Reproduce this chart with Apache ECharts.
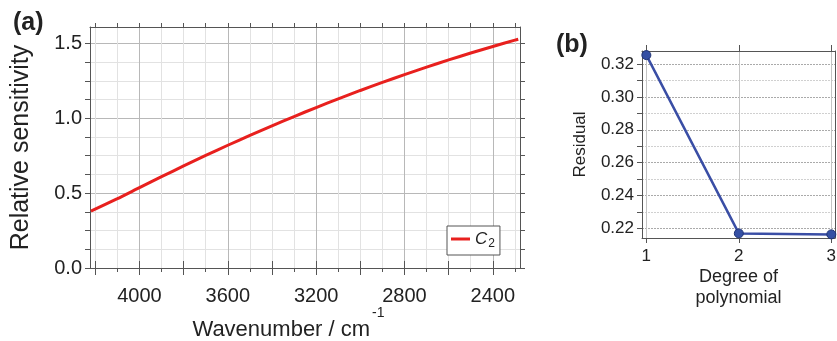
<!DOCTYPE html>
<html>
<head>
<meta charset="utf-8">
<script src="https://cdn.jsdelivr.net/npm/echarts@6/dist/echarts.min.js"></script>
<style>
  html, body { margin: 0; padding: 0; background: #fff; }
  #chart { width: 837px; height: 341px; }
</style>
</head>
<body>
<div id="chart"></div>
<script>
// (a) relative sensitivity against wavenumber
const wavenumbers = [4220, 4100, 4000, 3900, 3800, 3700, 3600, 3500, 3400, 3300, 3200,
  3100, 3000, 2900, 2800, 2700, 2600, 2500, 2400, 2300, 2285];
const sensitivity = [0.38, 0.463, 0.537, 0.61, 0.682, 0.752, 0.82, 0.886, 0.95, 1.012, 1.072,
  1.13, 1.186, 1.24, 1.292, 1.342, 1.39, 1.436, 1.48, 1.522, 1.528];
const wnLabels = [2400, 2800, 3200, 3600, 4000];
const wnTicks = [2300, 2400, 2500, 2600, 2700, 2800, 2900, 3000, 3100, 3200, 3300,
  3400, 3500, 3600, 3700, 3800, 3900, 4000, 4100, 4200];
const wnMajorTicks = [2400, 2600, 2800, 3000, 3200, 3400, 3600, 3800, 4000, 4200];
const sensLabels = [0, 0.5, 1.0, 1.5];
const sensTicks = [0, 0.125, 0.25, 0.375, 0.5, 0.625, 0.75, 0.875, 1.0, 1.125, 1.25, 1.375, 1.5];

// (b) residual against degree of polynomial
const degrees = [1, 2, 3];
const residuals = [0.3255, 0.2169, 0.2163];
const degreeLabels = [1, 2, 3];
const residLabels = [0.22, 0.24, 0.26, 0.28, 0.30, 0.32];
const residTicks = [0.22, 0.23, 0.24, 0.25, 0.26, 0.27, 0.28, 0.29, 0.30, 0.31, 0.32];

const FONT = 'Liberation Sans';
const AX = '#555';

const chart = echarts.init(document.getElementById('chart'));

const boxAxis = (extra) => Object.assign({
  type: 'value',
  nameMoveOverlap: false,
  axisLine: { show: true, onZero: false, lineStyle: { color: AX, width: 1 } },
  axisTick: { show: true, inside: false, length: 5, lineStyle: { color: AX } },
  axisLabel: { show: false },
  splitLine: { show: false }
}, extra);

// longer ticks every 200 cm-1, drawn by an extra axis without a line
const majorWnAxis = (pos) => boxAxis({
  gridIndex: 0, position: pos, inverse: true, min: 2277, max: 4224,
  axisLine: { show: false },
  axisTick: { show: true, inside: false, length: 7, customValues: wnMajorTicks, lineStyle: { color: AX } }
});

chart.setOption({
  animation: false,
  title: [
    { text: '(a)', left: 8, top: 6, textStyle: { fontFamily: FONT, fontSize: 25, fontWeight: 'bold', color: '#222' } },
    { text: '(b)', left: 551, top: 28, textStyle: { fontFamily: FONT, fontSize: 25, fontWeight: 'bold', color: '#222' } }
  ],
  grid: [
    { left: 90, top: 27, right: 317, bottom: 73, containLabel: false, outerBoundsMode: 'none' },
    { left: 642, top: 51, right: 2, bottom: 103, containLabel: false, outerBoundsMode: 'none' }
  ],
  legend: {
    left: 447, top: 226,
    data: ['C2'],
    icon: 'rect', itemWidth: 19, itemHeight: 3,
    padding: [5, 5, 5, 4],
    borderColor: AX, borderWidth: 1, backgroundColor: '#fff',
    formatter: () => '{i|C}{s|2}',
    textStyle: {
      rich: {
        i: { fontFamily: FONT, fontSize: 17, fontStyle: 'italic', color: '#222', lineHeight: 18, verticalAlign: 'bottom' },
        s: { fontFamily: FONT, fontSize: 12, color: '#222', lineHeight: 12, verticalAlign: 'bottom', padding: [0, 0, -2, 1] }
      }
    }
  },
  xAxis: [
    boxAxis({
      gridIndex: 0, position: 'bottom', inverse: true, min: 2277, max: 4224,
      name: '{t|Wavenumber / cm}{sup|-1}', nameLocation: 'middle', nameGap: 38,
      nameTextStyle: {
        padding: [0, 33, 0, 0],
        rich: {
          t: { fontFamily: FONT, fontSize: 22, color: '#222', lineHeight: 48 },
          sup: { fontFamily: FONT, fontSize: 14, color: '#222', lineHeight: 14, verticalAlign: 'top', padding: [0, 0, 0, 2] }
        }
      },
      axisTick: { show: true, inside: false, length: 4, customValues: wnTicks, lineStyle: { color: AX } },
      axisLabel: {
        show: true, customValues: wnLabels, margin: 18,
        fontFamily: FONT, fontSize: 20, color: '#222',
        formatter: (v) => String(v)
      },
      splitLine: { show: true, lineStyle: { color: ['#e2e2e2', '#b8b8b8', '#e2e2e2', '#e2e2e2'], width: 1 } }
    }),
    boxAxis({
      gridIndex: 0, position: 'top', inverse: true, min: 2277, max: 4224,
      axisTick: { show: true, inside: false, length: 4, customValues: wnTicks, lineStyle: { color: AX } }
    }),
    boxAxis({
      gridIndex: 1, position: 'bottom', min: 0.953, max: 3.04,
      name: 'Degree of\npolynomial', nameLocation: 'middle', nameGap: 29,
      nameTextStyle: { fontFamily: FONT, fontSize: 18, lineHeight: 21, color: '#222' },
      axisTick: { show: true, inside: false, length: 5, customValues: degreeLabels, lineStyle: { color: AX } },
      axisLabel: { show: true, customValues: degreeLabels, margin: 10, fontFamily: FONT, fontSize: 17, color: '#222' },
      splitLine: { show: true, lineStyle: { color: '#c4c4c4', width: 1 } }
    }),
    boxAxis({
      gridIndex: 1, position: 'top', min: 0.953, max: 3.04,
      axisTick: { show: true, inside: false, length: 6, customValues: degreeLabels, lineStyle: { color: AX } }
    }),
    majorWnAxis('bottom'),
    majorWnAxis('top')
  ],
  yAxis: [
    boxAxis({
      gridIndex: 0, position: 'left', min: 0, max: 1.61,
      name: 'Relative sensitivity', nameLocation: 'middle', nameGap: 56,
      nameTextStyle: { fontFamily: FONT, fontSize: 25, color: '#222' },
      axisTick: { show: true, inside: false, length: 5, customValues: sensTicks, lineStyle: { color: AX } },
      axisLabel: {
        show: true, customValues: sensLabels, margin: 8,
        fontFamily: FONT, fontSize: 20, color: '#222',
        formatter: (v) => v.toFixed(1)
      },
      splitLine: { show: true, lineStyle: { color: ['#b8b8b8', '#e2e2e2', '#e2e2e2', '#e2e2e2'], width: 1 } }
    }),
    boxAxis({
      gridIndex: 0, position: 'right', min: 0, max: 1.61,
      axisTick: { show: true, inside: false, length: 5, customValues: sensTicks, lineStyle: { color: AX } }
    }),
    boxAxis({
      gridIndex: 1, position: 'left', min: 0.2141, max: 0.328,
      name: 'Residual', nameLocation: 'middle', nameGap: 53,
      nameTextStyle: { fontFamily: FONT, fontSize: 17, color: '#222' },
      axisTick: { show: true, inside: false, length: 5, customValues: residTicks, lineStyle: { color: AX } },
      axisLabel: {
        show: true, customValues: residLabels, margin: 8,
        fontFamily: FONT, fontSize: 17, color: '#222',
        formatter: (v) => v.toFixed(2)
      },
      splitLine: { show: true, lineStyle: { color: ['#aaaaaa', '#d0d0d0'], width: 1, type: [2, 1] } }
    }),
    boxAxis({
      gridIndex: 1, position: 'right', min: 0.2141, max: 0.328,
      axisTick: { show: false }
    })
  ],
  series: [
    {
      name: 'C2', type: 'line', xAxisIndex: 0, yAxisIndex: 0,
      data: wavenumbers.map((w, i) => [w, sensitivity[i]]),
      showSymbol: false, smooth: 0.2,
      lineStyle: { color: '#e8201e', width: 3 },
      itemStyle: { color: '#e8201e' }
    },
    {
      name: 'residual', type: 'line', xAxisIndex: 2, yAxisIndex: 2,
      data: degrees.map((d, i) => [d, residuals[i]]),
      symbol: 'circle', symbolSize: 9,
      lineStyle: { color: '#3a4ea5', width: 2.5 },
      itemStyle: { color: '#3550a4', borderColor: '#1f3375', borderWidth: 1 }
    }
  ]
});
</script>
</body>
</html>
